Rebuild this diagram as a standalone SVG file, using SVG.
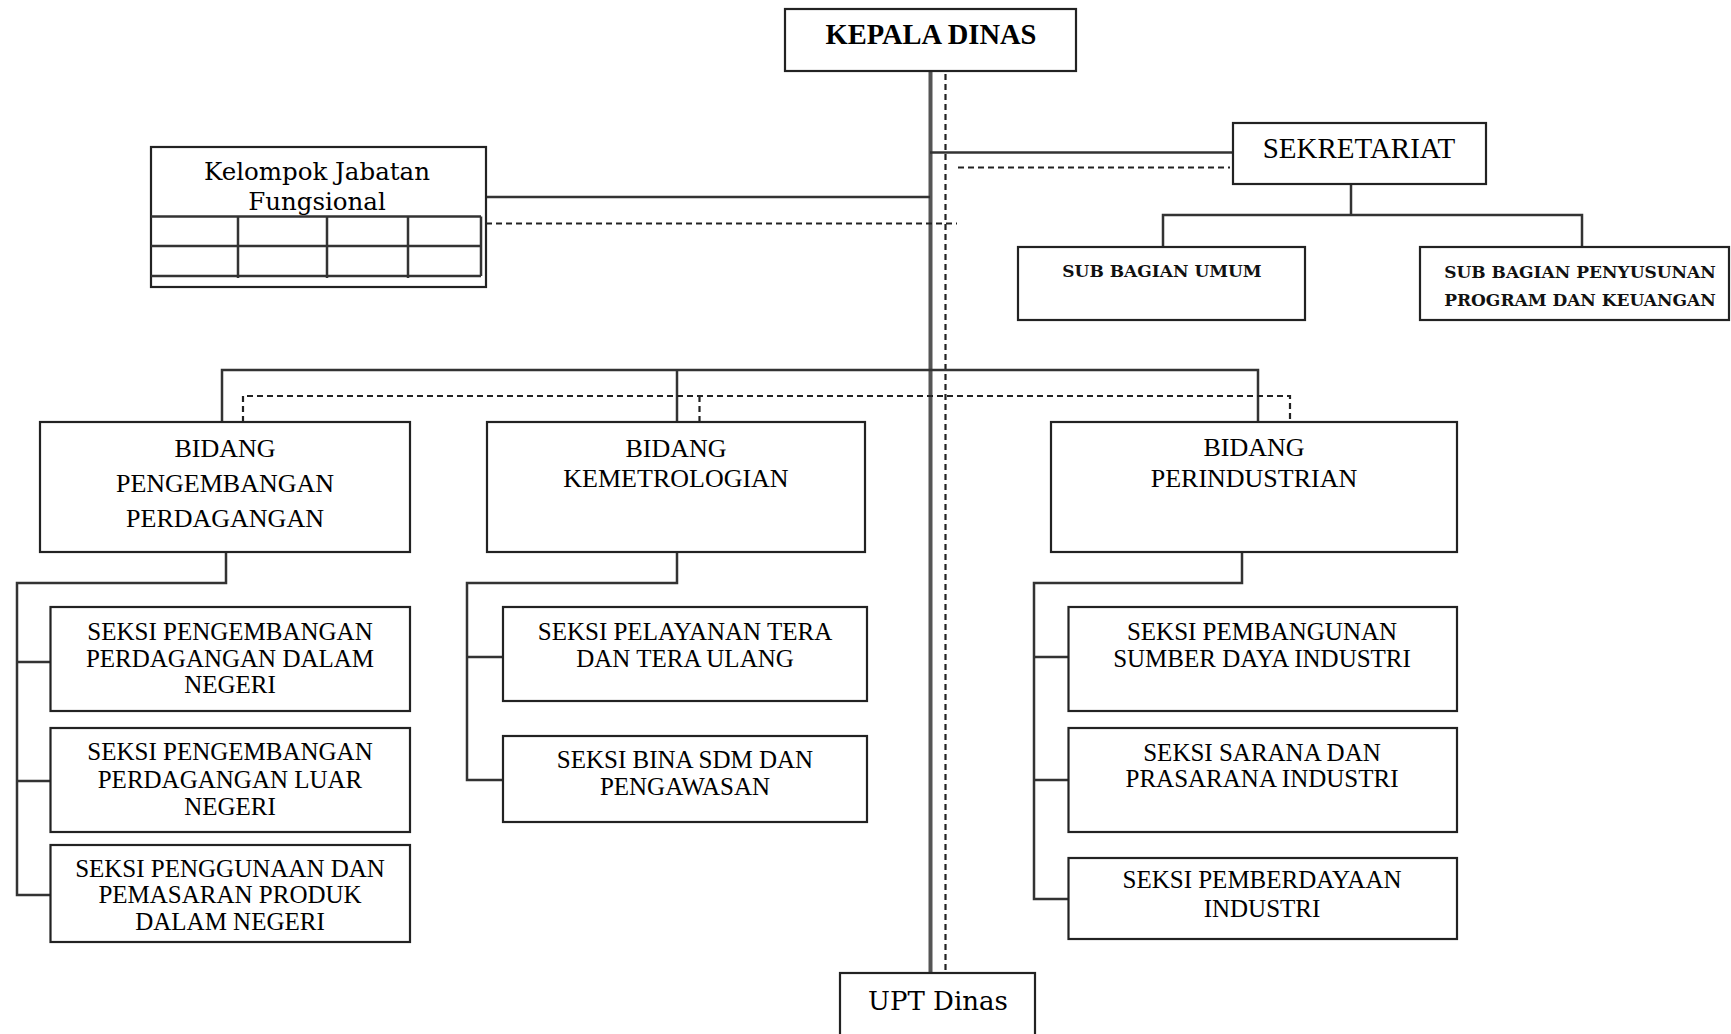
<svg xmlns="http://www.w3.org/2000/svg" width="1731" height="1034" viewBox="0 0 1731 1034">
<style>
.box{fill:#fff;stroke:#222;stroke-width:2.2}
.ln{fill:none;stroke:#333;stroke-width:2.5}
.main{fill:none;stroke:#555;stroke-width:4}
.dash{fill:none;stroke:#222;stroke-width:2.2;stroke-dasharray:6,4}
.t{font-family:"Liberation Serif",serif;fill:#000;text-anchor:middle}
.cap{font-size:25px}
.big{font-size:26px}
.dj{font-family:"DejaVu Serif",serif;fill:#000;text-anchor:middle}
.sub{font-family:"DejaVu Serif",serif;font-weight:bold;font-size:17px;fill:#111;text-anchor:middle}
</style>
<rect width="1731" height="1034" fill="#fff"/>
<g id="connectors">
  <line class="main" x1="930.5" y1="72" x2="930.5" y2="974"/>
  <line class="dash" x1="945.5" y1="74" x2="945.5" y2="974"/>
  <line class="ln" x1="930" y1="152.5" x2="1233" y2="152.5"/>
  <line class="dash" x1="958" y1="167.5" x2="1230" y2="167.5"/>
  <line class="ln" x1="486" y1="197" x2="930" y2="197"/>
  <line class="dash" x1="486" y1="223.5" x2="957" y2="223.5"/>
  <polyline class="ln" points="1351,184 1351,215"/>
  <polyline class="ln" points="1163,247 1163,215 1582,215 1582,247"/>
  <polyline class="ln" points="222,422 222,370 1258,370 1258,422"/>
  <line class="ln" x1="677" y1="370" x2="677" y2="422"/>
  <polyline class="dash" points="243,422 243,396 1290,396 1290,422"/>
  <line class="dash" x1="699.5" y1="396" x2="699.5" y2="422"/>
  <polyline class="ln" points="226,552 226,583 17,583 17,895 50,895"/>
  <line class="ln" x1="17" y1="662" x2="50" y2="662"/>
  <line class="ln" x1="17" y1="781" x2="50" y2="781"/>
  <polyline class="ln" points="677,552 677,583 467,583 467,780 503,780"/>
  <line class="ln" x1="467" y1="657" x2="503" y2="657"/>
  <polyline class="ln" points="1242,552 1242,583 1034,583 1034,899 1068,899"/>
  <line class="ln" x1="1034" y1="657" x2="1068" y2="657"/>
  <line class="ln" x1="1034" y1="780" x2="1068" y2="780"/>
</g>
<g id="kepala-dinas">
  <rect class="box" x="785" y="9" width="291" height="62"/>
  <text class="t" x="931" y="44" font-size="28.5" font-weight="bold">KEPALA DINAS</text>
</g>
<g id="sekretariat">
  <rect class="box" x="1233" y="123" width="253" height="61"/>
  <text class="t" x="1359" y="158" font-size="29">SEKRETARIAT</text>
</g>
<g id="sub-bagian-umum">
  <rect class="box" x="1018" y="247" width="287" height="73"/>
  <text class="sub" x="1162" y="277">SUB BAGIAN UMUM</text>
</g>
<g id="sub-bagian-penyusunan">
  <rect class="box" x="1420" y="247" width="309" height="73"/>
  <text class="sub" x="1580" y="278">SUB BAGIAN PENYUSUNAN</text>
  <text class="sub" x="1580" y="306">PROGRAM DAN KEUANGAN</text>
</g>
<g id="kelompok-jabatan-fungsional">
  <rect class="box" x="151" y="147" width="335" height="140"/>
  <text class="dj" x="317" y="180" font-size="24.5">Kelompok Jabatan</text>
  <text class="dj" x="317" y="210" font-size="24.5">Fungsional</text>
  <path class="ln" d="M151,216.5 H481 M151,246 H481 M151,276 H481 M481,216.5 V276 M238,216.5 V278 M327,216.5 V278 M408,216.5 V278"/>
</g>
<g id="bidang-perdagangan">
  <rect class="box" x="40" y="422" width="370" height="130"/>
  <text class="t big" x="225" y="457">BIDANG</text>
  <text class="t big" x="225" y="492">PENGEMBANGAN</text>
  <text class="t big" x="225" y="527">PERDAGANGAN</text>
</g>
<g id="bidang-kemetrologian">
  <rect class="box" x="487" y="422" width="378" height="130"/>
  <text class="t big" x="676" y="457">BIDANG</text>
  <text class="t big" x="676" y="487">KEMETROLOGIAN</text>
</g>
<g id="bidang-perindustrian">
  <rect class="box" x="1051" y="422" width="406" height="130"/>
  <text class="t big" x="1254" y="456">BIDANG</text>
  <text class="t big" x="1254" y="487">PERINDUSTRIAN</text>
</g>
<g id="seksi-pdn">
  <rect class="box" x="50.5" y="607" width="359.5" height="104"/>
  <text class="t cap" x="230" y="640">SEKSI PENGEMBANGAN</text>
  <text class="t cap" x="230" y="667">PERDAGANGAN DALAM</text>
  <text class="t cap" x="230" y="693">NEGERI</text>
</g>
<g id="seksi-pln">
  <rect class="box" x="50.5" y="728" width="359.5" height="104"/>
  <text class="t cap" x="230" y="760">SEKSI PENGEMBANGAN</text>
  <text class="t cap" x="230" y="788">PERDAGANGAN LUAR</text>
  <text class="t cap" x="230" y="815">NEGERI</text>
</g>
<g id="seksi-ppp">
  <rect class="box" x="50.5" y="845" width="359.5" height="97"/>
  <text class="t cap" x="230" y="877">SEKSI PENGGUNAAN DAN</text>
  <text class="t cap" x="230" y="903">PEMASARAN PRODUK</text>
  <text class="t cap" x="230" y="930">DALAM NEGERI</text>
</g>
<g id="seksi-tera">
  <rect class="box" x="503" y="607" width="364" height="94"/>
  <text class="t cap" x="685" y="640">SEKSI PELAYANAN TERA</text>
  <text class="t cap" x="685" y="667">DAN TERA ULANG</text>
</g>
<g id="seksi-bina">
  <rect class="box" x="503" y="736" width="364" height="86"/>
  <text class="t cap" x="685" y="768">SEKSI BINA SDM DAN</text>
  <text class="t cap" x="685" y="795">PENGAWASAN</text>
</g>
<g id="seksi-sdi">
  <rect class="box" x="1068.5" y="607" width="388.5" height="104"/>
  <text class="t cap" x="1262" y="640">SEKSI PEMBANGUNAN</text>
  <text class="t cap" x="1262" y="667">SUMBER DAYA INDUSTRI</text>
</g>
<g id="seksi-sarana">
  <rect class="box" x="1068.5" y="728" width="388.5" height="104"/>
  <text class="t cap" x="1262" y="761">SEKSI SARANA DAN</text>
  <text class="t cap" x="1262" y="787">PRASARANA INDUSTRI</text>
</g>
<g id="seksi-pemberdayaan">
  <rect class="box" x="1068.5" y="858" width="388.5" height="81"/>
  <text class="t cap" x="1262" y="888">SEKSI PEMBERDAYAAN</text>
  <text class="t cap" x="1262" y="917">INDUSTRI</text>
</g>
<g id="upt-dinas">
  <rect class="box" x="840" y="973" width="195" height="70"/>
  <text class="dj" x="938" y="1010" font-size="26">UPT Dinas</text>
</g>
</svg>
